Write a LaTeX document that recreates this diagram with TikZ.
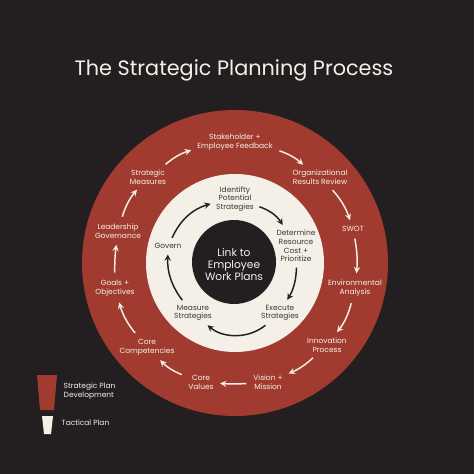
\documentclass[tikz,border=0pt]{standalone}
\usepackage{fontspec}
\setmainfont{Poppins}
\usetikzlibrary{positioning}
\definecolor{bgdark}{HTML}{231F20}
\definecolor{ringred}{HTML}{A23B2F}
\definecolor{cream}{HTML}{F4F0E8}
\definecolor{inktext}{HTML}{3A3636}

\begin{document}
\begin{tikzpicture}[x=0.75pt, y=-0.75pt, >=stealth, semithick]
  \tikzset{outlbl/.style={text=cream, align=center, font=\fontsize{5.6}{6.8}\selectfont, inner sep=1pt}};
  \tikzset{inlbl/.style={text=inktext, align=center, font=\fontsize{5.6}{6.5}\selectfont, inner sep=1pt}};
  \tikzset{outarr/.style={->, draw=cream, line width=1.1pt, shorten <=4pt, shorten >=3.5pt}};
  \tikzset{inarr/.style={->, draw=bgdark, line width=1.1pt, shorten <=3pt, shorten >=3pt}};
  \useasboundingbox (0,0) rectangle (474,474);
  \fill[bgdark] (0,0) rectangle (474,474);
  \node[text=cream, font=\fontsize{15.6}{18}\selectfont] (title) at (234,70) {The Strategic Planning Process};
  % rings
  \fill[ringred] (235,263) circle (153);
  \fill[cream] (235,263) circle (89);
  \fill[bgdark] (234,262) circle (42);
  \node[text=cream, align=center, font=\fontsize{8}{9}\selectfont] (link) at (234,264) {Link to\\Employee\\Work Plans};
  % outer ring
  \node[outlbl] (sh) at (235,142) {Stakeholder +\\Employee Feedback};
  \node[outlbl] (org) at (320,177) {Organizational\\Results Review};
  \node[outlbl] (swot) at (353,229) {SWOT};
  \node[outlbl] (env) at (355,288) {Environmental\\Analysis};
  \node[outlbl] (innov) at (327,345) {Innovation\\Process};
  \node[outlbl] (vis) at (268,382) {Vision +\\Mission};
  \node[outlbl] (cval) at (201,382) {Core\\Values};
  \node[outlbl] (ccomp) at (147,347) {Core\\Competencies};
  \node[outlbl] (goals) at (115,288) {Goals +\\Objectives};
  \node[outlbl] (lead) at (118,231) {Leadership\\Governance};
  \node[outlbl] (smeas) at (148,177) {Strategic\\Measures};
  \draw[outarr] (smeas) to[bend left=12] (sh);
  \draw[outarr] (sh) to[bend left=12] (org);
  \draw[outarr] (org) to[bend left=12] (swot);
  \draw[outarr] (swot) to[bend left=8] (env);
  \draw[outarr] (env) to[bend left=12] (innov);
  \draw[outarr] (innov) to[bend left=10] (vis);
  \draw[outarr] (vis) to[bend left=4] (cval);
  \draw[outarr] (cval) to[bend left=12] (ccomp);
  \draw[outarr] (ccomp) to[bend left=12] (goals);
  \draw[outarr] (goals) to[bend left=4] (lead);
  \draw[outarr] (lead) to[bend left=12] (smeas);
  % inner ring
  \node[inlbl] (ident) at (235,199) {Identifty\\Potential\\Strategies};
  \node[inlbl] (deter) at (296,246) {Determine\\Resource\\Cost +\\Prioritize};
  \node[inlbl] (exec) at (280,313) {Execute\\Strategies};
  \node[inlbl] (meas) at (193,313) {Measure\\Strategies};
  \node[inlbl] (gov) at (168,246) {Govern};
  \draw[inarr] (gov) to[bend left=25] (ident);
  \draw[inarr] (ident) to[bend left=20] (deter);
  \draw[inarr] (deter) to[bend left=15] (exec);
  \draw[inarr] (exec) to[bend left=40] (meas);
  \draw[inarr] (meas) to[bend left=20] (gov);
  % legend
  \fill[ringred] (37,375) -- (57,375) -- (54,410) -- (40,410) -- cycle;
  \fill[cream] (42,416) -- (53,416) -- (51,434) -- (44,434) -- cycle;
  \node[outlbl, align=left, anchor=west] (stratkey) at (62,391) {Strategic Plan\\Development};
  \node[outlbl, align=left, anchor=west] (tactkey) at (60,423) {Tactical Plan};
\end{tikzpicture}
\end{document}
